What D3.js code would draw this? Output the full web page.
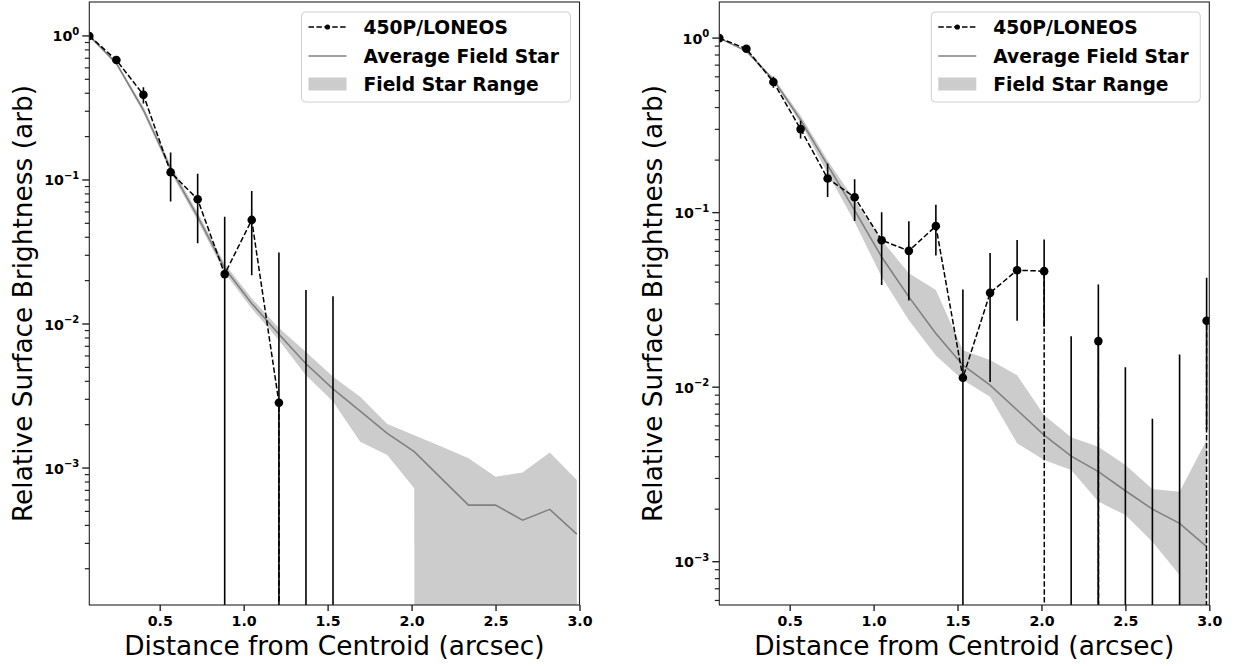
<!DOCTYPE html>
<html>
<head>
<meta charset="utf-8">
<script src="https://cdn.jsdelivr.net/npm/d3@7"></script>
<style>
  html, body { margin: 0; padding: 0; background: #fff; }
  svg { display: block; font-family: "DejaVu Sans", sans-serif; }
</style>
</head>
<body>
<svg id="chart" width="1234" height="666"></svg>
<script>
// ---------------- DATA ----------------
const radius = [0.0807, 0.242, 0.403, 0.565, 0.726, 0.887, 1.048, 1.210, 1.371, 1.532,
                1.694, 1.855, 2.016, 2.177, 2.339, 2.500, 2.661, 2.823, 2.984];

// Left panel
const leftComet    = [1.0, 0.68, 0.39, 0.113, 0.0734, 0.0222, 0.0528, 0.00284, -0.001, -0.002];
const leftCometErr = [0.0, 0.02, 0.05, 0.042, 0.037, 0.0334, 0.031, 0.0285, 0.0182, 0.0176];
const leftAvg   = [1.0, 0.645, 0.306, 0.12, 0.0556, 0.0244, 0.0139, 0.0085, 0.0053, 0.00355,
                   0.00248, 0.00174, 0.0013, 0.000848, 0.000553, 0.000553, 0.000435, 0.000517, 0.000348];
const leftUpper = [1.0, 0.66, 0.322, 0.128, 0.0595, 0.0262, 0.0151, 0.0094, 0.0064, 0.0043,
                   0.00313, 0.00202, 0.00169, 0.00141, 0.00117, 0.00087, 0.00093, 0.00128, 0.000826];
const leftLower = [1.0, 0.63, 0.292, 0.113, 0.052, 0.0227, 0.0128, 0.0077, 0.0044, 0.0029,
                   0.00152, 0.00123, 0.000723, -0.0001, -0.0002, -0.0003, -0.0002, -0.0003, -0.0002];

// Right panel
const rightComet    = [1.0, 0.869, 0.56, 0.301, 0.157, 0.1226, 0.0695, 0.0604, 0.0839, 0.01132,
                       0.0347, 0.0468, 0.0462, -0.002, 0.01836, -0.003, -0.008, -0.002, 0.024];
const rightCometErr = [0.0, 0.03, 0.04, 0.035, 0.034, 0.033, 0.031, 0.029, 0.027, 0.025,
                       0.024, 0.0228, 0.024, 0.0216, 0.0204, 0.016, 0.0146, 0.0174, 0.0183];
const rightAvg   = [1.0, 0.843, 0.578, 0.34, 0.187, 0.103, 0.0557, 0.0329, 0.0203, 0.01337,
                    0.01028, 0.0074, 0.00532, 0.00403, 0.00328, 0.00255, 0.0020, 0.00166, 0.00122];
const rightUpper = [1.0, 0.855, 0.592, 0.36, 0.1995, 0.1178, 0.0695, 0.045, 0.036, 0.0163,
                    0.0143, 0.0117, 0.0069, 0.00516, 0.00456, 0.00358, 0.00261, 0.00252, 0.00498];
const rightLower = [1.0, 0.83, 0.565, 0.325, 0.168, 0.0885, 0.0428, 0.0242, 0.0152, 0.011,
                    0.0088, 0.00477, 0.00383, 0.00335, 0.00221, 0.00185, 0.0013, 0.00084, -0.0002];

const xTicks = [0.5, 1.0, 1.5, 2.0, 2.5, 3.0];
const legendLabels = ["450P/LONEOS", "Average Field Star", "Field Star Range"];
const xLabel = "Distance from Centroid (arcsec)";
const yLabel = "Relative Surface Brightness (arb)";

// ---------------- DRAWING ----------------
const svg = d3.select("#chart");
const TINY = 1e-300;               // emulate matplotlib "clip" of non-positive values on log axes
const pos = v => (v > 0 ? v : TINY);

function drawPanel(cfg, idx) {
  const { left, right, top, bottom, yDomain, comet, cometErr, avg, upper, lower, majors } = cfg;
  const x = d3.scaleLinear().domain([radius[0], 3.0]).range([left, right]);
  const y = d3.scaleLog().domain(yDomain).range([bottom, top]);

  const g = svg.append("g");
  const clipId = "clip" + idx;
  svg.append("clipPath").attr("id", clipId)
    .append("rect").attr("x", left).attr("y", top).attr("width", right - left).attr("height", bottom - top);
  const plot = g.append("g").attr("clip-path", `url(#${clipId})`);

  // Field star range band
  const band = radius.map((r, i) => ({ r, lo: lower[i], hi: upper[i] }));
  plot.append("path").datum(band)
    .attr("fill", "#cccccc")
    .attr("stroke", "none")
    .attr("d", d3.area().x(d => x(d.r)).y0(d => y(pos(d.lo))).y1(d => y(pos(d.hi))));

  // Average field star
  plot.append("path").datum(radius.map((r, i) => ({ r, v: avg[i] })))
    .attr("fill", "none").attr("stroke", "#808080").attr("stroke-width", 1.6)
    .attr("d", d3.line().x(d => x(d.r)).y(d => y(pos(d.v))));

  // Comet data
  const cd = comet.map((v, i) => ({ r: radius[i], v, e: cometErr[i] }));
  plot.selectAll(".err").data(cd.filter(d => d.e > 0)).join("line")
    .attr("x1", d => x(d.r)).attr("x2", d => x(d.r))
    .attr("y1", d => y(pos(d.v - d.e))).attr("y2", d => y(pos(d.v + d.e)))
    .attr("stroke", "#000").attr("stroke-width", 1.6);
  plot.append("path").datum(cd)
    .attr("fill", "none").attr("stroke", "#000").attr("stroke-width", 1.5)
    .attr("stroke-dasharray", "5.5,2.4")
    .attr("d", d3.line().x(d => x(d.r)).y(d => y(pos(d.v))));
  plot.selectAll(".pt").data(cd.filter(d => d.v > 0)).join("circle")
    .attr("cx", d => x(d.r)).attr("cy", d => y(d.v)).attr("r", 4.3).attr("fill", "#000");

  // Axes frame
  g.append("rect").attr("x", left).attr("y", top).attr("width", right - left).attr("height", bottom - top)
    .attr("fill", "none").attr("stroke", "#222").attr("stroke-width", 1.1);

  // X axis ticks
  const xa = g.append("g").attr("transform", `translate(0,${bottom})`)
    .call(d3.axisBottom(x).tickValues(xTicks).tickFormat(d3.format(".1f")).tickSize(6).tickPadding(5));
  xa.select(".domain").remove();
  xa.selectAll(".tick line").attr("stroke", "#222").attr("stroke-width", 1.4);
  xa.selectAll(".tick text").attr("font-family", "DejaVu Sans").attr("font-weight", "bold")
    .attr("font-size", 14.2).attr("fill", "#000");

  // Y axis minor ticks
  const [d0, d1] = yDomain;
  const minors = [];
  for (let k = Math.floor(Math.log10(d0)); k <= Math.ceil(Math.log10(d1)); k++) {
    for (let m = 2; m <= 9; m++) {
      const v = m * Math.pow(10, k);
      if (v >= d0 && v <= d1) minors.push(v);
    }
  }
  const ya = g.append("g").attr("transform", `translate(${left},0)`);
  ya.selectAll(".minor").data(minors).join("line")
    .attr("x1", -4.5).attr("x2", 0).attr("y1", d => y(d)).attr("y2", d => y(d))
    .attr("stroke", "#222").attr("stroke-width", 1.2);
  ya.selectAll(".major").data(majors).join("line")
    .attr("x1", -7).attr("x2", 0).attr("y1", d => y(d)).attr("y2", d => y(d))
    .attr("stroke", "#222").attr("stroke-width", 1.4);
  const lab = ya.selectAll(".lab").data(majors).join("text")
    .attr("x", -10).attr("y", d => y(d) + 5.5)
    .attr("text-anchor", "end").attr("font-weight", "bold").attr("font-size", 14.2).attr("fill", "#000");
  lab.append("tspan").text("10");
  lab.append("tspan").attr("dy", -6.5).attr("font-size", 10)
    .text(d => { const e = Math.round(Math.log10(d)); return e === 0 ? "0" : "\u2212" + Math.abs(e); });

  // Axis labels
  g.append("text").attr("x", (left + right) / 2).attr("y", 655)
    .attr("text-anchor", "middle").attr("font-size", 26.4).attr("fill", "#000").text(xLabel);
  g.append("text").attr("transform", `translate(${left - 57},${(top + bottom) / 2}) rotate(-90)`)
    .attr("text-anchor", "middle").attr("font-size", 26.4).attr("fill", "#000").text(yLabel);

  // Legend
  const lx = right - 278, ly = 12;
  const lg = g.append("g");
  lg.append("rect").attr("x", lx).attr("y", ly).attr("width", 269).attr("height", 90).attr("rx", 4)
    .attr("fill", "#fff").attr("fill-opacity", 0.8).attr("stroke", "#d0d0d0").attr("stroke-width", 1);
  const hx0 = lx + 7, hx1 = lx + 45;
  const rows = [ly + 15, ly + 44, ly + 72];
  lg.append("line").attr("x1", hx0).attr("x2", hx1).attr("y1", rows[0]).attr("y2", rows[0])
    .attr("stroke", "#000").attr("stroke-width", 1.5).attr("stroke-dasharray", "5.5,2.4");
  lg.append("circle").attr("cx", (hx0 + hx1) / 2).attr("cy", rows[0]).attr("r", 2.6).attr("fill", "#000");
  lg.append("line").attr("x1", hx0).attr("x2", hx1).attr("y1", rows[1]).attr("y2", rows[1])
    .attr("stroke", "#808080").attr("stroke-width", 1.6);
  lg.append("rect").attr("x", hx0).attr("y", rows[2] - 6.5).attr("width", hx1 - hx0).attr("height", 13)
    .attr("fill", "#cccccc");
  lg.selectAll(".lt").data(legendLabels).join("text")
    .attr("x", lx + 62).attr("y", (d, i) => rows[i] + 7)
    .attr("font-weight", "bold").attr("font-size", 18.7).attr("fill", "#000").text(d => d);
}

drawPanel({
  left: 89.3, right: 579.5, top: 2, bottom: 605,
  yDomain: [1.12e-4, 1.72], majors: [1, 0.1, 0.01, 0.001],
  comet: leftComet, cometErr: leftCometErr, avg: leftAvg, upper: leftUpper, lower: leftLower
}, 0);

drawPanel({
  left: 719.3, right: 1209.3, top: 2, bottom: 605,
  yDomain: [5.65e-4, 1.61], majors: [1, 0.1, 0.01, 0.001],
  comet: rightComet, cometErr: rightCometErr, avg: rightAvg, upper: rightUpper, lower: rightLower
}, 1);
</script>
</body>
</html>
